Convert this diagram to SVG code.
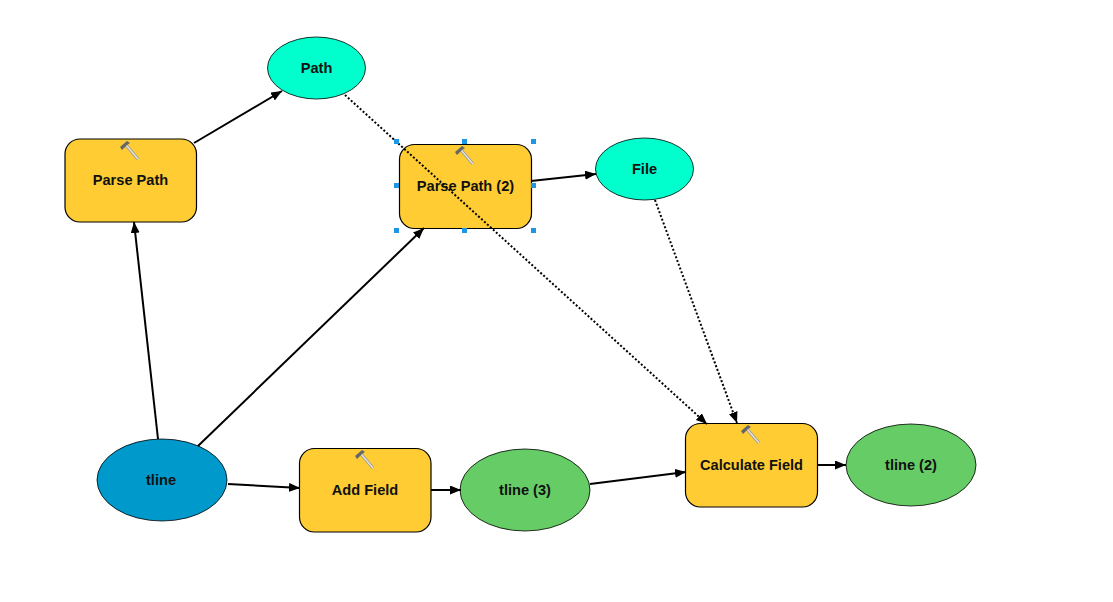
<svg xmlns="http://www.w3.org/2000/svg" width="1113" height="602" viewBox="0 0 1113 602">
  <style>
    .tool { fill: #ffcc33; stroke: #000; stroke-width: 1.2; }
    .var { fill: #00ffcc; stroke: #000; stroke-width: 0.8; }
    .input { fill: #0099cc; stroke: #000; stroke-width: 0.8; }
    .output { fill: #66cc66; stroke: #000; stroke-width: 0.8; }
    text { font-family: "Liberation Sans", Arial, sans-serif; font-size: 14.6px; font-weight: bold; fill: #111; text-anchor: middle; }
    .flow { fill: none; stroke: #000; stroke-width: 2; marker-end: url(#head); }
    .pre { fill: none; stroke: #000; stroke-width: 2; stroke-dasharray: 2 2; marker-end: url(#head); }
    .grip { fill: #1e96e6; }
  </style>
  <defs>
    <marker id="head" markerUnits="userSpaceOnUse" markerWidth="12" markerHeight="10" refX="11" refY="4.500" orient="auto">
      <path d="M0 0L11 4.500L0 9Z" fill="#000"/>
    </marker>
    <g id="hammer">
      <path d="M0 0L12 14" stroke="#9a9a9a" stroke-width="3" fill="none"/>
      <path d="M0 0L12 14" stroke="#ece8e0" stroke-width="1.2" fill="none"/>
      <path d="M-6 2L1 -4L4 -2L1 0L-4 5Z" fill="#666"/>
    </g>
  </defs>
  <rect width="1113" height="602" fill="#fff"/>

  <g id="path-var">
    <ellipse class="var" cx="316.500" cy="68" rx="49" ry="31"/>
    <text x="316.500" y="73">Path</text>
  </g>
  <g id="parse-path">
    <rect class="tool" x="65" y="139" width="131.500" height="83" rx="15"/>
    <use href="#hammer" x="126" y="145"/>
    <text x="130.500" y="185">Parse Path</text>
  </g>
  <g id="parse-path-2">
    <rect class="tool" x="399.500" y="144.500" width="132" height="84" rx="15"/>
    <use href="#hammer" x="461" y="150"/>
    <text x="465.500" y="191">Parse Path (2)</text>
  </g>
  <g id="file-var">
    <ellipse class="var" cx="644.500" cy="169" rx="49" ry="31"/>
    <text x="644.500" y="174">File</text>
  </g>
  <g id="tline">
    <ellipse class="input" cx="162" cy="480" rx="65" ry="41"/>
    <text x="161" y="485">tline</text>
  </g>
  <g id="add-field">
    <rect class="tool" x="299.500" y="448.500" width="131.500" height="83.500" rx="15"/>
    <use href="#hammer" x="361" y="454"/>
    <text x="365" y="495">Add Field</text>
  </g>
  <g id="tline-3">
    <ellipse class="output" cx="525" cy="490" rx="65" ry="41"/>
    <text x="525" y="495">tline (3)</text>
  </g>
  <g id="calculate-field">
    <rect class="tool" x="685.500" y="423.500" width="132" height="83.500" rx="15"/>
    <use href="#hammer" x="747" y="429"/>
    <text x="751.500" y="470">Calculate Field</text>
  </g>
  <g id="tline-2">
    <ellipse class="output" cx="911" cy="465" rx="65" ry="41"/>
    <text x="911" y="470">tline (2)</text>
  </g>

  <g id="connectors">
    <path class="flow" d="M194 143L282 91"/>
    <path class="flow" d="M158 439L134 222"/>
    <path class="flow" d="M198 446L424 228"/>
    <path class="flow" d="M228 484L300 488"/>
    <path class="flow" d="M431 490L461 490"/>
    <path class="flow" d="M590 484L686 472"/>
    <path class="flow" d="M817 465L846 465"/>
    <path class="flow" d="M531 181L596 174"/>
    <path class="pre" d="M345 95L707 424"/>
    <path class="pre" d="M655 200L737 423"/>
  </g>

  <g id="selection-handles">
    <rect class="grip" x="394" y="139" width="5" height="5"/>
    <rect class="grip" x="462" y="139" width="5" height="5"/>
    <rect class="grip" x="531" y="139" width="5" height="5"/>
    <rect class="grip" x="394" y="183" width="5" height="5"/>
    <rect class="grip" x="531" y="183" width="5" height="5"/>
    <rect class="grip" x="394" y="228" width="5" height="5"/>
    <rect class="grip" x="462" y="228" width="5" height="5"/>
    <rect class="grip" x="531" y="228" width="5" height="5"/>
  </g>
</svg>
